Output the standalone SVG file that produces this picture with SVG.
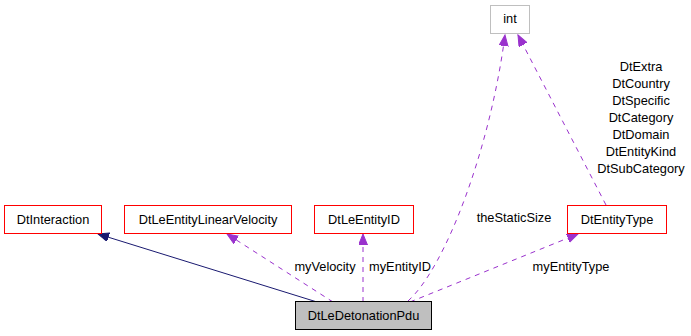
<svg xmlns="http://www.w3.org/2000/svg" width="691" height="336" viewBox="0 0 691 336">
<defs>
<style>
text{font-family:"Liberation Sans",Arial,sans-serif;font-size:12.8px;fill:#000}
.n rect{fill:#fff;stroke:#ff0000;stroke-width:1}
.lbl{text-anchor:middle}
.dep{fill:none;stroke:#9a32cd;stroke-width:1;stroke-dasharray:5,5}
.inh{fill:none;stroke:#191970;stroke-width:1}
</style>
<marker id="ap" markerUnits="userSpaceOnUse" markerWidth="12" markerHeight="10" refX="11" refY="4.5" orient="auto"><path d="M0,0 L11,4.5 L0,9 z" fill="#9a32cd" stroke="#9a32cd" stroke-dasharray="none"/></marker>
<marker id="an" markerUnits="userSpaceOnUse" markerWidth="12" markerHeight="10" refX="11" refY="4.5" orient="auto"><path d="M0,0 L11,4.5 L0,9 z" fill="#191970" stroke="#191970"/></marker>
</defs>
<rect width="691" height="336" fill="#fff"/>
<g id="edges">
<path class="inh" d="M317,302 L98,234" marker-end="url(#an)"/>
<path class="dep" d="M333,302 L227,234" marker-end="url(#ap)"/>
<path class="dep" d="M363,302 L363,234" marker-end="url(#ap)"/>
<path class="dep" d="M408,301 C445,268 490,150 505,35" marker-end="url(#ap)"/>
<path class="dep" d="M410,302 L578,234" marker-end="url(#ap)"/>
<path class="dep" d="M606,205 L518,35" marker-end="url(#ap)"/>
<text x="325" y="271" class="lbl">myVelocity</text>
<text x="400" y="271" class="lbl">myEntityID</text>
<text x="514" y="222" class="lbl">theStaticSize</text>
<text x="571" y="271" class="lbl">myEntityType</text>
<text class="lbl" x="641" y="71">DtExtra</text>
<text class="lbl" x="641" y="88">DtCountry</text>
<text class="lbl" x="641" y="105">DtSpecific</text>
<text class="lbl" x="641" y="122">DtCategory</text>
<text class="lbl" x="641" y="139">DtDomain</text>
<text class="lbl" x="641" y="156">DtEntityKind</text>
<text class="lbl" x="641" y="173">DtSubCategory</text>
</g>
<g id="DtLeDetonationPdu"><rect x="295.5" y="301.5" width="136" height="28" fill="#bfbfbf" stroke="#000"/><text x="363.5" y="320" class="lbl">DtLeDetonationPdu</text></g>
<g id="DtInteraction" class="n"><rect x="4.5" y="205.5" width="97" height="28"/><text x="53" y="223.5" class="lbl">DtInteraction</text></g>
<g id="DtLeEntityLinearVelocity" class="n"><rect x="124.5" y="205.5" width="167" height="28"/><text x="208" y="223.5" class="lbl">DtLeEntityLinearVelocity</text></g>
<g id="DtLeEntityID" class="n"><rect x="314.5" y="205.5" width="99" height="28"/><text x="364" y="223.5" class="lbl">DtLeEntityID</text></g>
<g id="DtEntityType" class="n"><rect x="567.5" y="205.5" width="99" height="28"/><text x="617" y="223.5" class="lbl">DtEntityType</text></g>
<g id="int"><rect x="490.5" y="5.5" width="39" height="28" fill="#fff" stroke="#bfbfbf"/><text x="510" y="23" class="lbl">int</text></g>
</svg>
